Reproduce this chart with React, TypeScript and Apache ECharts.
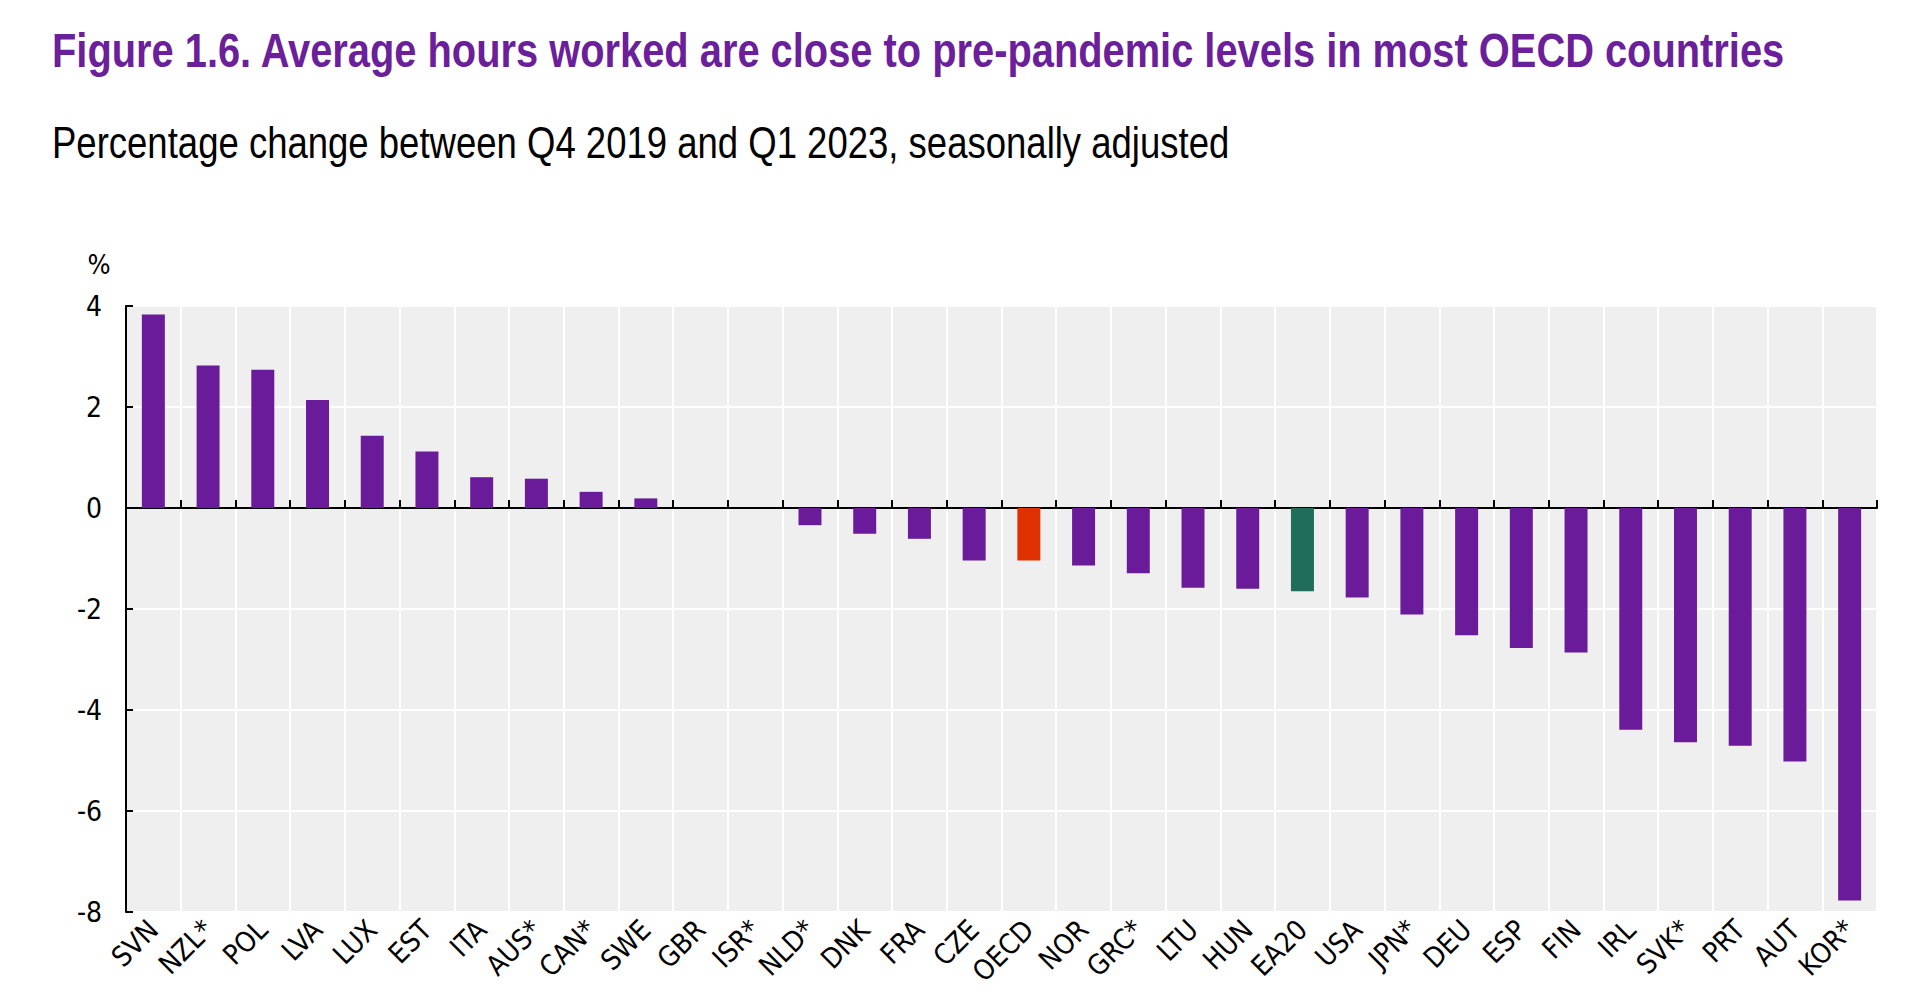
import React, { useEffect, useRef } from "react";
import * as echarts from "echarts";

const categories = ["SVN","NZL*","POL","LVA","LUX","EST","ITA","AUS*","CAN*","SWE","GBR","ISR*","NLD*","DNK","FRA","CZE","OECD","NOR","GRC*","LTU","HUN","EA20","USA","JPN*","DEU","ESP","FIN","IRL","SVK*","PRT","AUT","KOR*"];
const values = [3.83,2.82,2.74,2.14,1.43,1.12,0.61,0.58,0.32,0.19,0,0,-0.34,-0.51,-0.61,-1.04,-1.04,-1.14,-1.29,-1.58,-1.6,-1.65,-1.77,-2.11,-2.52,-2.77,-2.86,-4.39,-4.64,-4.71,-5.02,-7.77];
const yTicks = { min: -8, max: 4, interval: 2 };
const titleText = "Figure 1.6. Average hours worked are close to pre-pandemic levels in most OECD countries";
const subtitleText = "Percentage change between Q4 2019 and Q1 2023, seasonally adjusted";
const highlight: Record<string, string> = { OECD: "#DE3000", EA20: "#1F6E5B" };
const baseColor = "#6A1B9A";

export default function App() {
  const ref = useRef<HTMLDivElement>(null);
  useEffect(() => {
    document.body.style.margin = "0";
    const chart = echarts.init(ref.current!, undefined, { renderer: "svg" });
    const font = "'Liberation Sans', Arial, sans-serif";
    const narrow = "'Liberation Sans Narrow', 'Arial Narrow', 'DejaVu Sans Condensed', sans-serif";
    chart.setOption({
      animation: false,
      backgroundColor: "#ffffff",
      textStyle: { fontFamily: narrow },
      graphic: [
        {
          type: "text",
          x: 52,
          y: 50,
          scaleX: 0.83,
          style: { text: titleText, fontFamily: font, fontSize: 48, fontWeight: "bold", fill: "#6B1F9B", verticalAlign: "middle", align: "left" },
        },
        {
          type: "text",
          x: 52,
          y: 143,
          scaleX: 0.83,
          style: { text: subtitleText, fontFamily: font, fontSize: 44, fontWeight: "normal", fill: "#000", verticalAlign: "middle", align: "left" },
        },
        {
          type: "text",
          x: 99,
          y: 264,
          style: { text: "%", fontFamily: narrow, fontSize: 27, fill: "#000", verticalAlign: "middle", align: "center" },
        },
      ],
      grid: { left: 126, right: 43, top: 306, bottom: 92, show: true, backgroundColor: "#EFEFEF", borderWidth: 0 },
      xAxis: [
        {
          type: "category",
          data: categories,
          position: "bottom",
          axisLine: { show: false, onZero: false },
          axisTick: { show: false },
          splitLine: { show: true, lineStyle: { color: "#FFFFFF", width: 2 } },
          axisLabel: { rotate: 45, fontSize: 28, color: "#000", margin: 13, interval: 0, fontFamily: narrow },
        },
        {
          type: "category",
          data: categories,
          position: "bottom",
          axisLine: { show: true, onZero: true, lineStyle: { color: "#000", width: 2 } },
          axisTick: { show: true, inside: true, length: 8, lineStyle: { color: "#000", width: 2 } },
          axisLabel: { show: false },
          splitLine: { show: false },
        },
      ],
      yAxis: {
        type: "value",
        min: yTicks.min,
        max: yTicks.max,
        interval: yTicks.interval,
        axisLine: { show: true, lineStyle: { color: "#000", width: 2 } },
        axisTick: { show: true, inside: true, length: 7, lineStyle: { color: "#000", width: 2 } },
        axisLabel: { fontSize: 28, color: "#000", margin: 24, fontFamily: narrow },
        splitLine: { show: true, lineStyle: { color: "#FFFFFF", width: 2 } },
      },
      series: [
        {
          type: "bar",
          xAxisIndex: 1,
          barWidth: "42%",
          data: categories.map((c, i) => ({
            value: values[i],
            itemStyle: { color: highlight[c] || baseColor },
          })),
        },
      ],
    });
    return () => chart.dispose();
  }, []);
  return <div ref={ref} style={{ position: "fixed", left: 0, top: 0, width: 1920, height: 1004 }} />;
}
